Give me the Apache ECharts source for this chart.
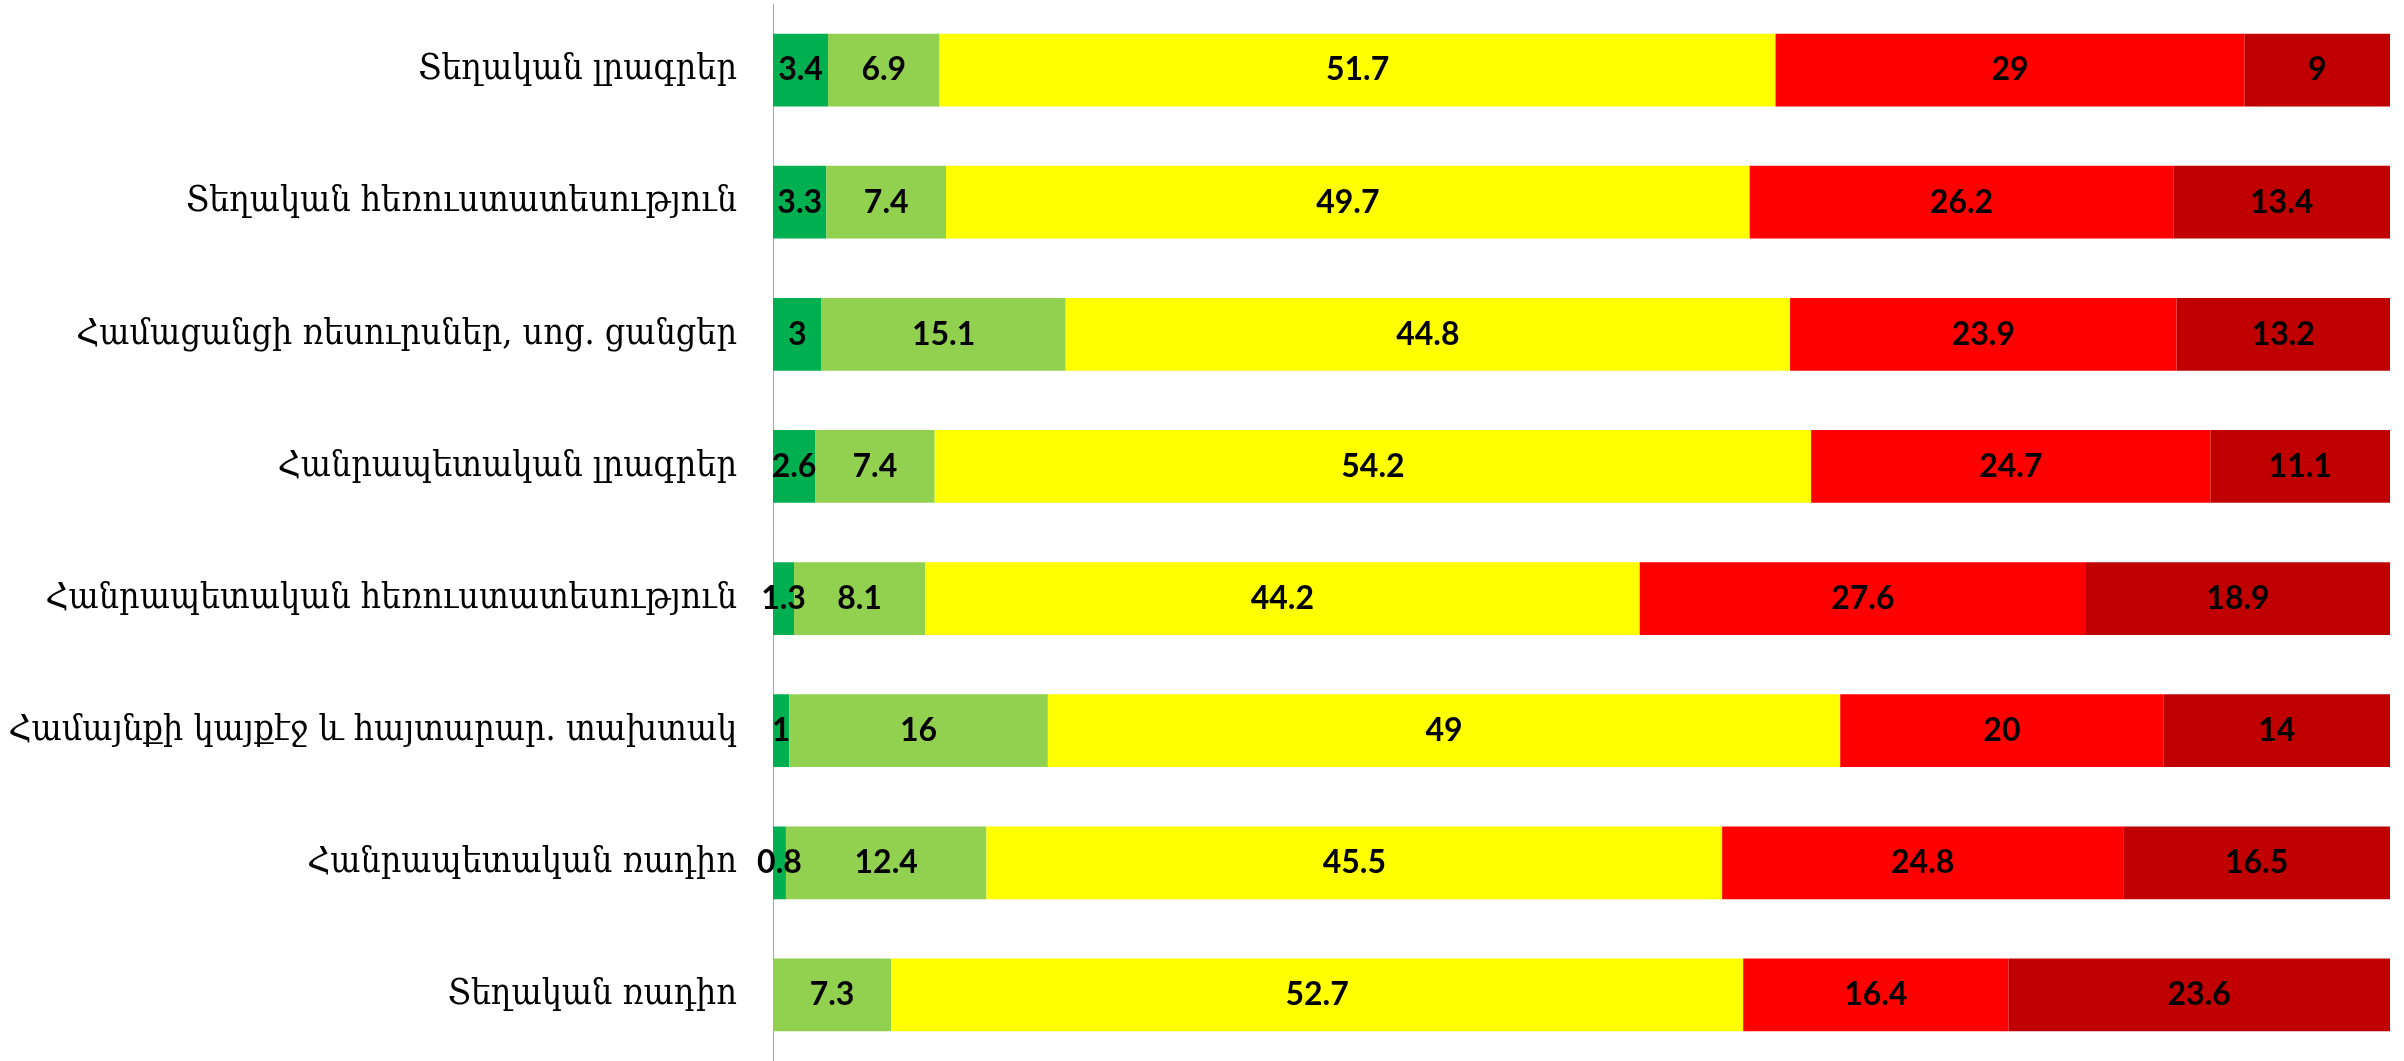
<!DOCTYPE html>
<html>
<head>
<meta charset="utf-8">
<script src="https://cdn.jsdelivr.net/npm/echarts@6/dist/echarts.min.js"></script>
<style>
html,body{margin:0;padding:0;background:#fff;}
#chart{width:2404px;height:1061px;}
</style>
</head>
<body>
<div id="chart"></div>
<script>
const categories = [
  "Տեղական լրագրեր",
  "Տեղական հեռուստատեսություն",
  "Համացանցի ռեսուրսներ, սոց. ցանցեր",
  "Հանրապետական լրագրեր",
  "Հանրապետական հեռուստատեսություն",
  "Համայնքի կայքէջ և հայտարար. տախտակ",
  "Հանրապետական ռադիո",
  "Տեղական ռադիո"
];
const s1 = [3.4, 3.3, 3, 2.6, 1.3, 1, 0.8, 0];
const s2 = [6.9, 7.4, 15.1, 7.4, 8.1, 16, 12.4, 7.3];
const s3 = [51.7, 49.7, 44.8, 54.2, 44.2, 49, 45.5, 52.7];
const s4 = [29, 26.2, 23.9, 24.7, 27.6, 20, 24.8, 16.4];
const s5 = [9, 13.4, 13.2, 11.1, 18.9, 14, 16.5, 23.6];

const seriesData = [s1, s2, s3, s4, s5];
const colors = ["#00B050", "#92D050", "#FFFF00", "#FF0000", "#C00000"];

const chart = echarts.init(document.getElementById('chart'), null, {renderer: 'canvas'});
chart.setOption({
  animation: false,
  backgroundColor: '#fff',
  grid: {left: 773, right: 14, top: 4, height: 1062, containLabel: false},
  xAxis: {
    type: 'value', min: 0, max: 100, show: false
  },
  yAxis: {
    type: 'category', data: categories, inverse: true,
    axisLine: {show: true, lineStyle: {color: '#A6A6A6', width: 1}},
    axisTick: {show: false},
    splitLine: {show: false},
    axisLabel: {
      margin: 36,
      color: '#000',
      fontFamily: '"DejaVu Serif Condensed", "DejaVu Serif", serif',
      fontSize: 35.5
    }
  },
  series: seriesData.map((d, i) => ({
    type: 'bar',
    stack: 'total',
    data: d,
    barCategoryGap: '45%',
    itemStyle: {color: colors[i]},
    label: {
      show: true,
      position: 'inside',
      color: '#000',
      fontFamily: 'Lato, "Open Sans", sans-serif',
      fontWeight: 'bold',
      fontSize: 32,
      formatter: p => p.value === 0 ? '' : String(p.value)
    },
    labelLayout: {hideOverlap: false}
  }))
});
</script>
</body>
</html>
